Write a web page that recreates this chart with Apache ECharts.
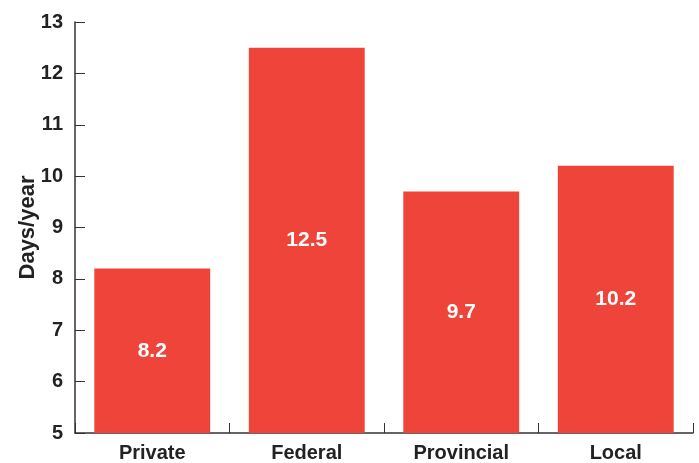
<!DOCTYPE html>
<html>
<head>
<meta charset="utf-8">
<script src="https://cdn.jsdelivr.net/npm/echarts@6/dist/echarts.min.js"></script>
<style>
  html, body { margin: 0; padding: 0; background: #fff; }
  #chart { width: 699px; height: 463px; }
</style>
</head>
<body>
<div id="chart"></div>
<script>
// Average days per year by employer type
const categories = ['Private', 'Federal', 'Provincial', 'Local'];
const daysPerYear = [8.2, 12.5, 9.7, 10.2];
const yTicks = { min: 5, max: 13, step: 1 };

const chart = echarts.init(document.getElementById('chart'), null, { renderer: 'canvas' });
const font = 'Liberation Sans, Arial, Helvetica, sans-serif';

chart.setOption({
  animation: false,
  grid: { left: 75, right: 6, top: 22, bottom: 29, containLabel: false },
  xAxis: {
    type: 'category',
    data: categories,
    axisLine: { lineStyle: { color: '#333', width: 1.5 } },
    axisTick: { show: true, inside: true, length: 10, alignWithLabel: false, lineStyle: { color: '#333' } },
    axisLabel: { color: '#222', fontFamily: font, fontWeight: 'bold', fontSize: 20, margin: 10 }
  },
  yAxis: {
    type: 'value',
    min: yTicks.min,
    max: yTicks.max,
    interval: yTicks.step,
    name: 'Days/year',
    nameLocation: 'middle',
    nameRotate: 90,
    nameGap: 36,
    nameMoveOverlap: false,
    nameTextStyle: { color: '#222', fontFamily: font, fontWeight: 'bold', fontSize: 22 },
    splitLine: { show: false },
    axisLine: { show: true, lineStyle: { color: '#333', width: 1.5 } },
    axisTick: { show: true, inside: true, length: 10, lineStyle: { color: '#333' } },
    axisLabel: { color: '#222', fontFamily: font, fontWeight: 'bold', fontSize: 20, margin: 12 }
  },
  series: [{
    type: 'bar',
    data: daysPerYear,
    barWidth: '75%',
    itemStyle: { color: '#EF4439' },
    label: {
      show: true,
      position: 'inside',
      color: '#fff',
      fontFamily: font,
      fontWeight: 'bold',
      fontSize: 21,
      formatter: p => p.value.toFixed(1)
    }
  }]
});
</script>
</body>
</html>
